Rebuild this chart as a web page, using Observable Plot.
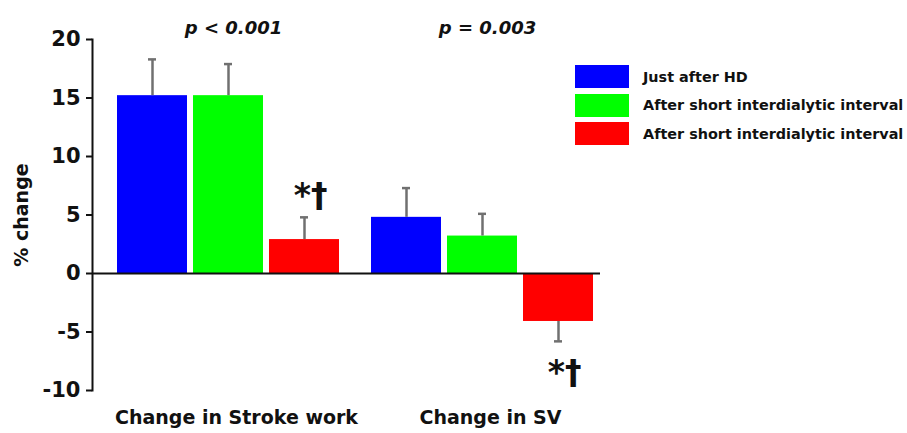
<!DOCTYPE html>
<html>
<head>
<meta charset="utf-8">
<script src="https://cdn.jsdelivr.net/npm/d3@7"></script>
<script src="https://cdn.jsdelivr.net/npm/@observablehq/plot@0.6"></script>
<style>
  html, body { margin: 0; padding: 0; background: #fff; }
  #wrap { position: relative; width: 907px; height: 433px; font-family: "DejaVu Sans", sans-serif; }
  #legend { position: absolute; left: 575px; top: 65px; font-weight: bold; font-size: 14.4px; color: #111; }
  .row { display: flex; align-items: center; height: 23px; margin-bottom: 5.5px; white-space: nowrap; }
  .sw { width: 54px; height: 23px; margin-right: 14px; }
</style>
</head>
<body>
<div id="wrap"><div id="legend"></div></div>
<script>
const groups = ["Change in Stroke work", "Change in SV"];
const seriesKeys = ["s1", "s2", "s3"];
const seriesLabels = ["Just after HD", "After short interdialytic interval", "After short interdialytic interval"];
const seriesColors = ["#0000ff", "#00ff00", "#ff0000"];
const strokeWork = [15.2, 15.2, 2.9];
const strokeWorkErr = [3.1, 2.7, 1.9];
const sv = [4.8, 3.2, -4.1];
const svErr = [2.5, 1.9, 1.7];
const pValues = ["p < 0.001", "p = 0.003"];
const sigLabels = [["", "", "*†"], ["", "", "*†"]];
const yTicks = [-10, -5, 0, 5, 10, 15, 20];

const vals = [strokeWork, sv];
const errs = [strokeWorkErr, svErr];
const data = [];
groups.forEach((g, gi) => seriesKeys.forEach((k, si) => {
  const v = vals[gi][si], e = errs[gi][si];
  data.push({group: g, key: k, value: v, end: v + Math.sign(v) * e, sig: sigLabels[gi][si]});
}));
const pData = groups.map((g, i) => ({group: g, p: pValues[i], key: seriesKeys[1]}));

const font = "DejaVu Sans, sans-serif";
const chart = Plot.plot({
  width: 907,
  height: 433,
  marginLeft: 91,
  marginRight: 307,
  marginTop: 39,
  marginBottom: 43,
  style: {fontFamily: font, color: "#111", background: "transparent"},
  fx: {domain: groups, paddingInner: 0, paddingOuter: 0},
  x: {domain: seriesKeys, paddingInner: 0.078, paddingOuter: 0.1916, align: 0.797, axis: null},
  y: {domain: [-10, 20]},
  color: {domain: seriesKeys, range: seriesColors},
  marks: [
    Plot.barY(data, {fx: "group", x: "key", y: "value", fill: "key"}),
    Plot.ruleX(data, {fx: "group", x: "key", y1: "value", y2: "end", stroke: "#707070", strokeWidth: 2.5}),
    Plot.tickY(data, {fx: "group", x: "key", y: "end", stroke: "#707070", strokeWidth: 2.5, insetLeft: 31, insetRight: 31}),
    Plot.ruleY([0], {stroke: "#111", strokeWidth: 2}),
    Plot.frame({anchor: "left", facetAnchor: "left", stroke: "#111", strokeWidth: 2}),
    Plot.axisY({ticks: yTicks, tickFormat: d => String(d), tickSize: 6, tickPadding: 6, fontSize: 21, fontWeight: "bold",
      stroke: "#111", strokeWidth: 2, label: "% change", labelArrow: "none", labelAnchor: "center", labelOffset: 78}),
    Plot.axisFx({anchor: "bottom", label: null, tickSize: 0, tickPadding: 20, fontSize: 19, fontWeight: "bold", dx: 17}),
    Plot.text(pData, {fx: "group", x: "key", text: "p", frameAnchor: "top", dy: -18, fontSize: 18, fontWeight: "bold", fontStyle: "italic", dx: 5}),
    Plot.text(data.filter(d => d.sig && d.value > 0), {fx: "group", x: "key", y: "end", text: "sig", lineAnchor: "bottom", dy: -10, fontSize: 33, fontWeight: "bold", dx: 6}),
    Plot.text(data.filter(d => d.sig && d.value < 0), {fx: "group", x: "key", y: "end", text: "sig", lineAnchor: "top", dy: 19, fontSize: 33, fontWeight: "bold", dx: 6})
  ]
});
document.getElementById("wrap").prepend(chart);
chart.style.position = "absolute";
chart.style.left = "0";
chart.style.top = "0";
const yl = chart.querySelector('[aria-label="y-axis label"] text');
if (yl) { yl.setAttribute("font-size", "19"); yl.setAttribute("font-weight", "bold"); }

const legend = document.getElementById("legend");
seriesKeys.forEach((k, i) => {
  const row = document.createElement("div");
  row.className = "row";
  const sw = document.createElement("div");
  sw.className = "sw";
  sw.style.background = seriesColors[i];
  const t = document.createElement("span");
  t.textContent = seriesLabels[i];
  row.append(sw, t);
  legend.append(row);
});
</script>
</body>
</html>
